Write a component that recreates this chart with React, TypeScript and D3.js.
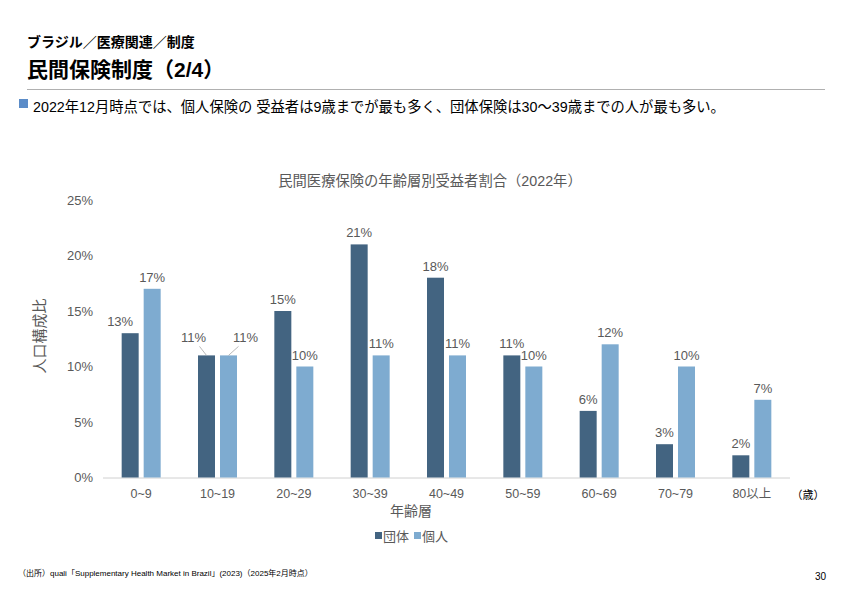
import { scaleBand, scaleLinear } from "d3"

const categories = ["0~9", "10~19", "20~29", "30~39", "40~49", "50~59", "60~69", "70~79", "80以上"]
const groupValues = [13, 11, 15, 21, 18, 11, 6, 3, 2]
const individualValues = [17, 11, 10, 11, 11, 10, 12, 10, 7]
const yTicks = [0, 5, 10, 15, 20, 25]
const seriesNames = ["団体", "個人"]

const FONT = "'Liberation Sans', Arial, 'Noto Sans CJK JP', sans-serif"
const C_GROUP = "#436481"
const C_INDIV = "#7eabd0"
const TXT = "#595959"

export default function App() {
  const x = scaleBand<string>().domain(categories).range([103, 790])
  const y = scaleLinear().domain([0, 25]).range([477.5, 200])
  const barW = 17
  const gap = 5

  const series = [
    { name: seriesNames[0], values: groupValues, color: C_GROUP, dx: -gap / 2 - barW },
    { name: seriesNames[1], values: individualValues, color: C_INDIV, dx: gap / 2 },
  ]

  return (
    <svg width={842} height={595} style={{ position: "absolute", left: 0, top: 0, background: "#fff" }} fontFamily={FONT}>
      {/* ヘッダー */}
      <text x={27} y={47} fontSize={14} fontWeight="bold" fill="#000">ブラジル／医療関連／制度</text>
      <text x={27} y={77} fontSize={21} fontWeight="bold" fill="#000">民間保険制度（2/4）</text>
      <line x1={27} x2={825} y1={89.5} y2={89.5} stroke="#b0b0b0" strokeWidth={1} />
      <rect x={19} y={99} width={9} height={9} fill="#5b8cc8" />
      <text x={33} y={112} fontSize={14.3} fill="#000">
        2022年12月時点では、個人保険の 受益者は9歳までが最も多く、団体保険は30～39歳までの人が最も多い。
      </text>

      {/* グラフタイトル */}
      <text x={430} y={186} fontSize={14.3} fill={TXT} textAnchor="middle">民間医療保険の年齢層別受益者割合（2022年）</text>

      {/* Y 軸 */}
      {yTicks.map((t) => (
        <text key={t} x={93} y={y(t) + 4.5} fontSize={13} fill={TXT} textAnchor="end">{t}%</text>
      ))}
      <text transform={`translate(45,${336}) rotate(-90)`} fontSize={15} fill={TXT} textAnchor="middle">人口構成比</text>

      {/* X 軸 */}
      <line x1={103} x2={790} y1={y(0) + 0.5} y2={y(0) + 0.5} stroke="#d0d0d0" />
      {categories.map((c) => (
        <text key={c} x={x(c)! + x.bandwidth() / 2} y={498} fontSize={12.5} fill={TXT} textAnchor="middle">{c}</text>
      ))}
      <text x={808} y={499} fontSize={11} fill="#000" textAnchor="middle">（歳）</text>
      <text x={411} y={516} fontSize={14} fill={TXT} textAnchor="middle">年齢層</text>

      {/* 棒 */}
      {series.map((s) =>
        categories.map((c, i) => {
          const cx = x(c)! + x.bandwidth() / 2
          const v = s.values[i]
          return (
            <rect key={s.name + c} x={cx + s.dx} y={y(v)} width={barW} height={y(0) - y(v)} fill={s.color} />
          )
        })
      )}

      {/* データラベル */}
      {series.map((s, si) =>
        categories.map((c, i) => {
          const cx = x(c)! + x.bandwidth() / 2
          const v = s.values[i]
          const bx = cx + s.dx + barW / 2
          if (i === 1) {
            const lx = si === 0 ? bx - 13 : bx + 17
            const ly = y(v) - 13
            return (
              <g key={"l" + s.name + c}>
                <line x1={si === 0 ? lx + 6 : lx - 7} y1={ly + 4} x2={bx} y2={y(v)} stroke="#a6a6a6" strokeWidth={0.8} />
                <text x={lx} y={ly} fontSize={13} fill={TXT} textAnchor="middle">{v}%</text>
              </g>
            )
          }
          const shift = si === 0 && i === 0 ? -10 : 0
          return (
            <text key={"l" + s.name + c} x={bx + shift} y={y(v) - 7} fontSize={13} fill={TXT} textAnchor="middle">{v}%</text>
          )
        })
      )}

      {/* 凡例 */}
      {series.map((s, i) => (
        <g key={"lg" + s.name} transform={`translate(${375 + i * 39},536)`}>
          <rect x={0} y={-4} width={7} height={7} fill={s.color} />
          <text x={8} y={4.5} fontSize={13} fill={TXT}>{s.name}</text>
        </g>
      ))}

      {/* 出所 */}
      <text x={18} y={576} fontSize={8} fill="#000">（出所）quali「Supplementary Health Market in Brazil」(2023)（2025年2月時点）</text>
      <text x={826} y={580} fontSize={10} fill="#000" textAnchor="end">30</text>
    </svg>
  )
}
